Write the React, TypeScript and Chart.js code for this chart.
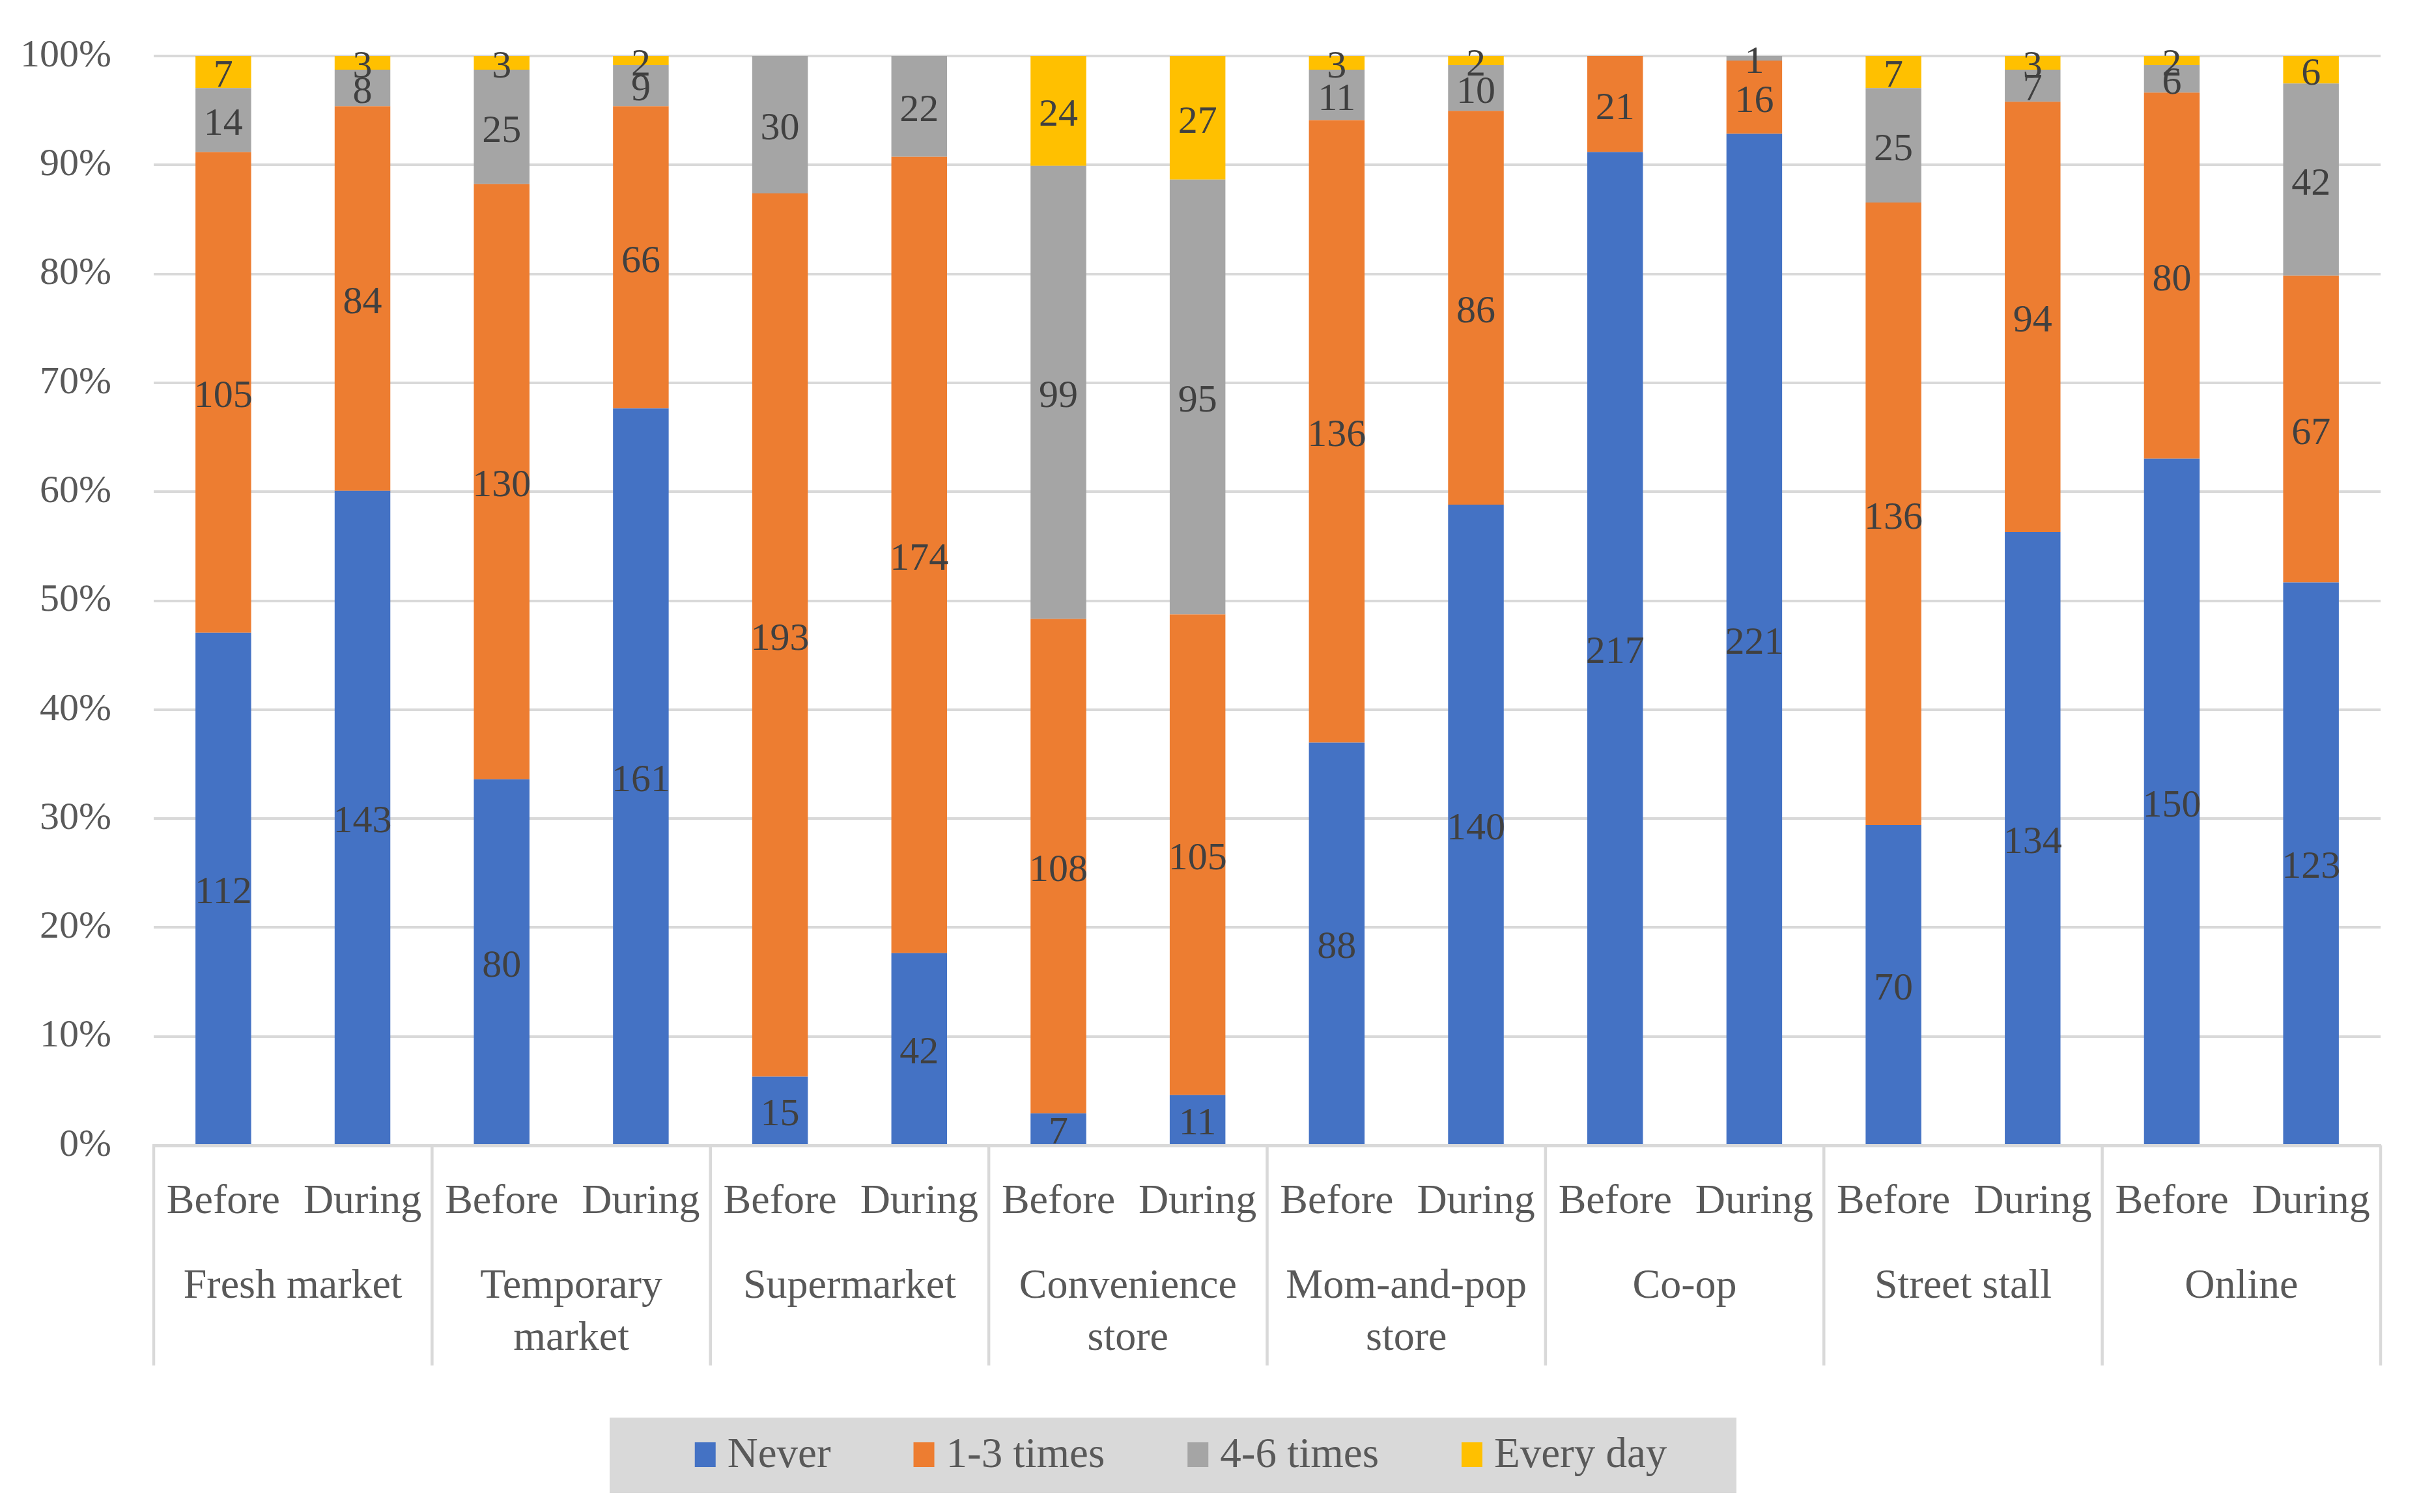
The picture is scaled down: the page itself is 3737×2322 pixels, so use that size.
import React, { useEffect, useRef } from "react";
import { Chart, registerables } from "chart.js";

Chart.register(...registerables);

const groups: string[][] = [
  ["Fresh market"],
  ["Temporary", "market"],
  ["Supermarket"],
  ["Convenience", "store"],
  ["Mom-and-pop", "store"],
  ["Co-op"],
  ["Street stall"],
  ["Online"],
];
const periods = ["Before", "During"];

const seriesNames = ["Never", "1-3 times", "4-6 times", "Every day"];
const seriesColors = ["#4472C4", "#ED7D31", "#A5A5A5", "#FFC000"];

const never = [112, 143, 80, 161, 15, 42, 7, 11, 88, 140, 217, 221, 70, 134, 150, 123];
const times13 = [105, 84, 130, 66, 193, 174, 108, 105, 136, 86, 21, 16, 136, 94, 80, 67];
const times46 = [14, 8, 25, 9, 30, 22, 99, 95, 11, 10, 0, 1, 25, 7, 6, 42];
const everyDay = [7, 3, 3, 2, 0, 0, 24, 27, 3, 2, 0, 0, 7, 3, 2, 6];

const yTicks = [0, 10, 20, 30, 40, 50, 60, 70, 80, 90, 100];

const W = 3737;
const H = 2322;
const FONT = "'Liberation Serif', 'Times New Roman', serif";
const GRID = "#D9D9D9";
const PLOT_LEFT = 236;
const PLOT_BOTTOM = 1759;

export default function App() {
  const ref = useRef<HTMLCanvasElement | null>(null);

  useEffect(() => {
    if (!ref.current) return;
    const counts = [never, times13, times46, everyDay];
    const totals = never.map((_, i) => counts.reduce((s, arr) => s + arr[i], 0));
    const labels: string[] = [];
    groups.forEach(() => periods.forEach((p) => labels.push(p)));

    const overlay = {
      id: "overlay",
      afterDatasetsDraw(chart: any) {
        const ctx = chart.ctx;
        ctx.save();
        ctx.font = `60px ${FONT}`;
        ctx.fillStyle = "#404040";
        ctx.textAlign = "center";
        ctx.textBaseline = "middle";
        chart.data.datasets.forEach((ds: any, di: number) => {
          const meta = chart.getDatasetMeta(di);
          meta.data.forEach((el: any, i: number) => {
            const raw = counts[di][i];
            if (!raw) return;
            const cy = (el.y + el.base) / 2;
            ctx.fillText(String(raw), el.x, cy + 7);
          });
        });
        ctx.restore();
      },
      afterDraw(chart: any) {
        const ctx = chart.ctx;
        const xs = chart.scales.x;
        const area = chart.chartArea;
        const catW = xs.getPixelForValue(1) - xs.getPixelForValue(0);
        ctx.save();
        ctx.strokeStyle = GRID;
        ctx.lineWidth = 4.5;
        for (let g = 0; g <= groups.length; g++) {
          const x = xs.getPixelForValue(g * 2) - catW / 2;
          ctx.beginPath();
          ctx.moveTo(x, area.bottom);
          ctx.lineTo(x, 2097);
          ctx.stroke();
        }
        ctx.fillStyle = "#595959";
        ctx.textAlign = "center";
        ctx.textBaseline = "alphabetic";
        ctx.font = `64px ${FONT}`;
        labels.forEach((l, i) => {
          ctx.fillText(l, xs.getPixelForValue(i), 1863);
        });
        groups.forEach((lines, g) => {
          const cx = (xs.getPixelForValue(g * 2) + xs.getPixelForValue(g * 2 + 1)) / 2;
          lines.forEach((ln, li) => {
            ctx.fillText(ln, cx, 1993 + li * 80);
          });
        });
        // legend
        const bx = 936, by = 2177, bw = 1730, bh = 116;
        ctx.fillStyle = "#D9D9D9";
        ctx.fillRect(bx, by, bw, bh);
        ctx.font = `65px ${FONT}`;
        const sw = 32, sh = 38, gapT = 18, gapItem = 127;
        const widths = seriesNames.map((n) => ctx.measureText(n).width);
        const total = widths.reduce((s, w) => s + w + sw + gapT, 0) + gapItem * (seriesNames.length - 1);
        let x = bx + bw / 2 - total / 2 + 12;
        const base = 2253;
        seriesNames.forEach((n, i) => {
          ctx.fillStyle = seriesColors[i];
          ctx.fillRect(x, base - sh, sw, sh);
          ctx.fillStyle = "#595959";
          ctx.textAlign = "left";
          ctx.fillText(n, x + sw + gapT, base);
          x += sw + gapT + widths[i] + gapItem;
        });
        ctx.restore();
      },
    };

    const chart = new Chart(ref.current, {
      type: "bar",
      data: {
        labels,
        datasets: seriesNames.map((name, di) => ({
          label: name,
          data: counts[di].map((v, i) => (v / totals[i]) * 100),
          backgroundColor: seriesColors[di],
          borderWidth: 0,
          barPercentage: 0.4,
          categoryPercentage: 1.0,
        })),
      },
      options: {
        responsive: false,
        animation: false,
        devicePixelRatio: 1,
        layout: { padding: { left: 0, top: 86, right: 82, bottom: 0 } },
        plugins: {
          legend: { display: false },
          tooltip: { enabled: false },
          title: { display: false },
        },
        scales: {
          x: {
            stacked: true,
            grid: { display: false, drawTicks: false },
            border: { display: true, color: GRID, width: 5 },
            ticks: { display: false },
            afterFit(scale: any) {
              scale.height = H - PLOT_BOTTOM;
            },
          },
          y: {
            stacked: true,
            min: 0,
            max: 100,
            afterBuildTicks(scale: any) {
              scale.ticks = yTicks.map((v) => ({ value: v }));
            },
            grid: { color: GRID, lineWidth: 4, drawTicks: false },
            border: { display: false },
            ticks: {
              padding: 65,
              color: "#595959",
              font: { family: FONT, size: 60 },
              callback: (v: any) => `${v}%`,
            },
            afterFit(scale: any) {
              scale.width = PLOT_LEFT;
              scale.paddingTop = 0;
              scale.paddingBottom = 0;
            },
          },
        },
      },
      plugins: [overlay],
    });
    return () => chart.destroy();
  }, []);

  return (
    <div style={{ position: "fixed", left: 0, top: 0, width: W, height: H, background: "#fff" }}>
      <canvas ref={ref} width={W} height={H} style={{ width: W, height: H, display: "block" }} />
    </div>
  );
}
